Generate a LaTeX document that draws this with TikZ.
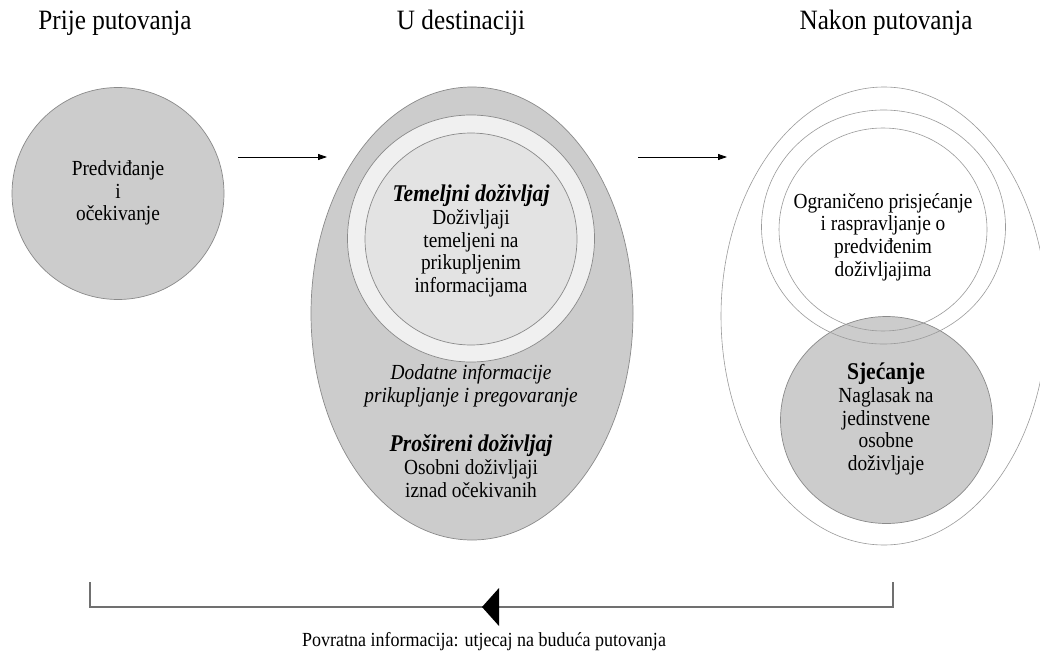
\documentclass[tikz,border=0pt]{standalone}
\usepackage{fontspec}
\setmainfont{Liberation Serif}[FakeStretch=0.9]
\usetikzlibrary{shapes.geometric,arrows.meta}
\definecolor{fillgray}{HTML}{CCCCCC}
\definecolor{ringgray}{HTML}{F0F0F0}
\definecolor{coregray}{HTML}{E3E3E3}
\definecolor{edgegray}{HTML}{8A8A8A}
\definecolor{thingray}{HTML}{9A9A9A}
\definecolor{linegray}{HTML}{707070}
\newcommand{\lead}[1]{{\fontsize{24}{22.7}\selectfont\bfseries #1}}
\begin{document}
\begin{tikzpicture}[x=1pt,y=-1pt,
  blob/.style={draw=edgegray,line width=0.7pt,inner sep=0pt,outer sep=0pt},
  hollow/.style={draw=thingray,line width=0.6pt,inner sep=0pt,outer sep=0pt,ellipse},
  txt/.style={align=center,font=\fontsize{21.5}{22.7}\selectfont,inner sep=0pt},
  head/.style={font=\fontsize{28}{30}\selectfont,inner sep=0pt,anchor=base},
  flow/.style={-{Triangle[length=9pt,width=6pt]},line width=0.8pt}]
\useasboundingbox[fill=white] (0,0) rectangle (1040,655);

% stage headings
\node[head] (h1) at (115,30) {Prije putovanja};
\node[head] (h2) at (461,30) {U destinaciji};
\node[head] (h3) at (886,30) {Nakon putovanja};

% before the trip
\node[blob,circle,fill=fillgray,minimum size=212pt] (pre) at (118,193.5) {};
\node[txt] (pretxt) at (118,193) {Predviđanje\\i\\očekivanje};

% at the destination
\node[blob,ellipse,fill=fillgray,minimum width=322pt,minimum height=453pt] (dest) at (472,313.5) {};
\node[blob,circle,fill=ringgray,minimum size=247pt] (ring) at (471,238.5) {};
\node[blob,circle,fill=coregray,minimum size=212pt] (core) at (471,239) {};
\node[txt] (coretxt) at (471,241) {\lead{\itshape Temeljni doživljaj}\\Doživljaji\\temeljeni na\\prikupljenim\\informacijama};
\node[txt] (midtxt) at (471,386) {\textit{Dodatne informacije}\\\textit{prikupljanje i pregovaranje}};
\node[txt] (exttxt) at (471,466) {\lead{\itshape Prošireni doživljaj}\\Osobni doživljaji\\iznad očekivanih};

% after the trip
\node[blob,ellipse,fill=fillgray,minimum width=212pt,minimum height=207pt] (mem) at (886.5,420) {};
\node[hollow,minimum width=326pt,minimum height=458pt] (post) at (884,316) {};
\node[hollow,minimum width=244pt,minimum height=234pt] (recA) at (883.5,227) {};
\node[hollow,minimum width=208pt,minimum height=203pt] (recB) at (883,229.5) {};
\node[txt] (rectxt) at (883,237) {Ograničeno prisjećanje\\i raspravljanje o\\predviđenim\\doživljajima};
\node[txt] (memtxt) at (886,419) {\lead{Sjećanje}\\Naglasak na\\jedinstvene\\osobne\\doživljaje};

% stage arrows
\coordinate (a1s) at (238,157);
\coordinate (a1e) at (327,157);
\coordinate (a2s) at (638,157);
\coordinate (a2e) at (727,157);
\draw[flow] (a1s) -- (a1e);
\draw[flow] (a2s) -- (a2e);

% feedback loop
\coordinate (fbL) at (90,582);
\coordinate (fbLb) at (90,607);
\coordinate (fbRb) at (893,607);
\coordinate (fbR) at (893,582);
\draw[linegray,line width=1.2pt] (fbL) -- (fbLb) -- (fbRb) -- (fbR);
\coordinate (tip) at (482,607);
\fill (tip) -- (499,588) -- (499,626) -- cycle;
\node[font=\fontsize{20}{22}\selectfont,inner sep=0pt] (fbtxt) at (484,642) {Povratna informacija: utjecaj na buduća putovanja};
\end{tikzpicture}
\end{document}
